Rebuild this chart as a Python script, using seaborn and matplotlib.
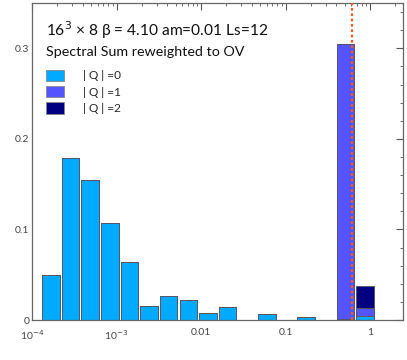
import numpy as np
import pandas as pd
import matplotlib
matplotlib.use("Agg")
import matplotlib.pyplot as plt
from matplotlib.patches import Patch
from matplotlib.ticker import FixedLocator, FixedFormatter, LogLocator, MultipleLocator
import seaborn as sns

# ---- data ----
labels = ["|Q|=0", "|Q|=1", "|Q|=2"]
colors = ["#00aaff", "#5555ff", "#000080"]
q0 = [0.050, 0.179, 0.155, 0.107, 0.064, 0.016, 0.027, 0.022, 0.0077, 0.014,
      0.0, 0.0063, 0.0, 0.003, 0.0, 0.0015, 0.0045]
q1 = [0.0] * 15 + [0.3035, 0.0085]
q2 = [0.0] * 16 + [0.025]
log_lo, log_hi = -3.897, 0.056      # log10 range of the histogram bins
n_bins = 17
vline_x = 0.607
xtick_vals = [1e-4, 1e-3, 1e-2, 1e-1, 1]
xtick_labels = ["10$^{-4}$", "10$^{-3}$", "0.01", "0.1", "1"]
ytick_vals = [0, 0.1, 0.2, 0.3]
ytick_labels = ["0", "0.1", "0.2", "0.3"]

edges = np.linspace(log_lo, log_hi, n_bins + 1)
centers = 10 ** ((edges[:-1] + edges[1:]) / 2)
rows = []
for lab, vals in zip(labels, [q0, q1, q2]):
    for c, v in zip(centers, vals):
        if v > 0:
            rows.append({"x": c, "w": v, "Q": lab})
df = pd.DataFrame(rows)

sns.set_style("white")
plt.rcParams["font.family"] = ["Lato", "DejaVu Sans"]

fig = plt.figure(figsize=(4.07, 3.60), dpi=100)
ax = fig.add_axes([32 / 407, 40 / 360, 371 / 407, 317 / 360])

# seaborn stacks the first hue level on top, so pass the order reversed
sns.histplot(data=df, x="x", weights="w", hue="Q", hue_order=labels[::-1],
             palette=colors[::-1], multiple="stack", log_scale=True,
             bins=n_bins, binrange=(log_lo, log_hi), shrink=0.9,
             alpha=1, edgecolor="#55556a", linewidth=0.7, legend=False, ax=ax)

ax.axvline(vline_x, color="#ff5a1e", linestyle=(0, (1.2, 1.2)), lw=1.6, zorder=5)

ax.set_xlim(1e-4, 10 ** 0.39)
ax.set_ylim(0, 0.35)
ax.set_xlabel("")
ax.set_ylabel("")
ax.xaxis.set_major_locator(FixedLocator(xtick_vals))
ax.xaxis.set_major_formatter(FixedFormatter(xtick_labels))
ax.xaxis.set_minor_locator(LogLocator(base=10, subs=np.arange(2, 10), numticks=20))
ax.yaxis.set_major_locator(FixedLocator(ytick_vals))
ax.yaxis.set_major_formatter(FixedFormatter(ytick_labels))
ax.yaxis.set_minor_locator(MultipleLocator(0.02))
ax.tick_params(which="both", direction="in", top=True, right=True,
               colors="#555555", labelcolor="#444444", labelsize=7.5)
ax.tick_params(which="major", length=5, width=0.8)
ax.tick_params(which="minor", length=2.5, width=0.6)
ax.tick_params(axis="x", pad=6)
ax.tick_params(axis="y", pad=2)
for s in ax.spines.values():
    s.set_color("#666666")
    s.set_linewidth(0.9)

ax.text(0.038, 0.915, "16$^3$ × 8 β = 4.10 am=0.01 Ls=12", transform=ax.transAxes,
        fontsize=11.2, color="#111111", va="center", ha="left")
ax.text(0.038, 0.847, "Spectral Sum reweighted to OV", transform=ax.transAxes,
        fontsize=10.3, color="#111111", va="center", ha="left")

handles = [Patch(facecolor=c, edgecolor="#888888", linewidth=0.6) for c in colors]
ax.legend(handles, ["| Q | =0", "| Q | =1", "| Q | =2"], loc="upper left",
          bbox_to_anchor=(0.025, 0.805),
          frameon=False, fontsize=8.5, handlelength=1.5, handleheight=1.1,
          handletextpad=1.6, labelspacing=0.4, borderaxespad=0)

fig.savefig("out.png", dpi=100)
